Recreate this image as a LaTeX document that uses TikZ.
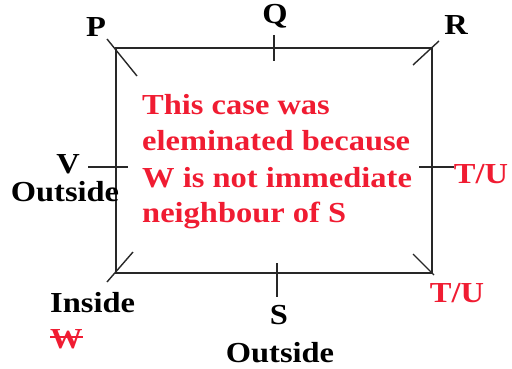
\documentclass[tikz,border=0pt]{standalone}
\usepackage{fontspec}
\setmainfont{Liberation Serif}[FakeStretch=1.12]
\definecolor{txtred}{RGB}{240,28,50}
\definecolor{linegray}{RGB}{40,40,40}
\begin{document}
\begin{tikzpicture}[x=1pt,y=-1pt,
  lab/.style={inner sep=0pt,anchor=base,font=\fontsize{29}{35}\selectfont\bfseries},
  blab/.style={lab,text=black},
  rlab/.style={lab,text=txtred},
  edge/.style={draw=linegray,line width=1.4pt},
  tick/.style={draw=linegray,line width=1.4pt}]
\useasboundingbox (0,0) rectangle (512,369);
% corners
\coordinate (c1) at (116,48);
\coordinate (c2) at (432,48);
\coordinate (c3) at (432,273);
\coordinate (c4) at (116,273);
\draw[edge] (c1) -- (c2) -- (c3) -- (c4) -- cycle;
% tick end points
\coordinate (p1) at (107,39);  \coordinate (p2) at (137,76);
\coordinate (r1) at (439,41);  \coordinate (r2) at (413,65);
\coordinate (d1) at (133,252); \coordinate (d2) at (107,282);
\coordinate (e1) at (413,254); \coordinate (e2) at (434,275);
\coordinate (q1) at (274,35);  \coordinate (q2) at (274,61);
\coordinate (s1) at (277,263); \coordinate (s2) at (277,297);
\coordinate (v1) at (88,167);  \coordinate (v2) at (128,167);
\coordinate (t1) at (419,167); \coordinate (t2) at (454,167);
\draw[tick] (p1) -- (p2);
\draw[tick] (r1) -- (r2);
\draw[tick] (d1) -- (d2);
\draw[tick] (e1) -- (e2);
\draw[tick] (q1) -- (q2);
\draw[tick] (s1) -- (s2);
\draw[tick] (v1) -- (v2);
\draw[tick] (t1) -- (t2);
% labels
\node[blab] (P) at (96,37) {P};
\node[blab] (Q) at (275,24) {Q};
\node[blab] (R) at (456,35) {R};
\node[blab] (V) at (68,173) {V};
\node[blab] (Vout) at (65,201) {Outside};
\node[rlab] (TU1) at (481,183) {T/U};
\node[rlab] (TU2) at (457,302) {T/U};
\node[blab,anchor=base west] (In) at (50,312) {Inside};
\node[rlab,anchor=base west] (W) at (50,348) {W};
\draw[txtred,line width=1.4pt] ([yshift=11pt]W.base west) -- ([yshift=11pt]W.base east);
\node[blab] (S) at (279,324) {S};
\node[blab] (Sout) at (280,362) {Outside};
% message
\node[rlab,anchor=base west] (m1) at (142,114) {This case was};
\node[rlab,anchor=base west] (m2) at (142,150) {eleminated because};
\node[rlab,anchor=base west] (m3) at (142,187) {W is not immediate};
\node[rlab,anchor=base west] (m4) at (142,222) {neighbour of S};
\end{tikzpicture}
\end{document}
